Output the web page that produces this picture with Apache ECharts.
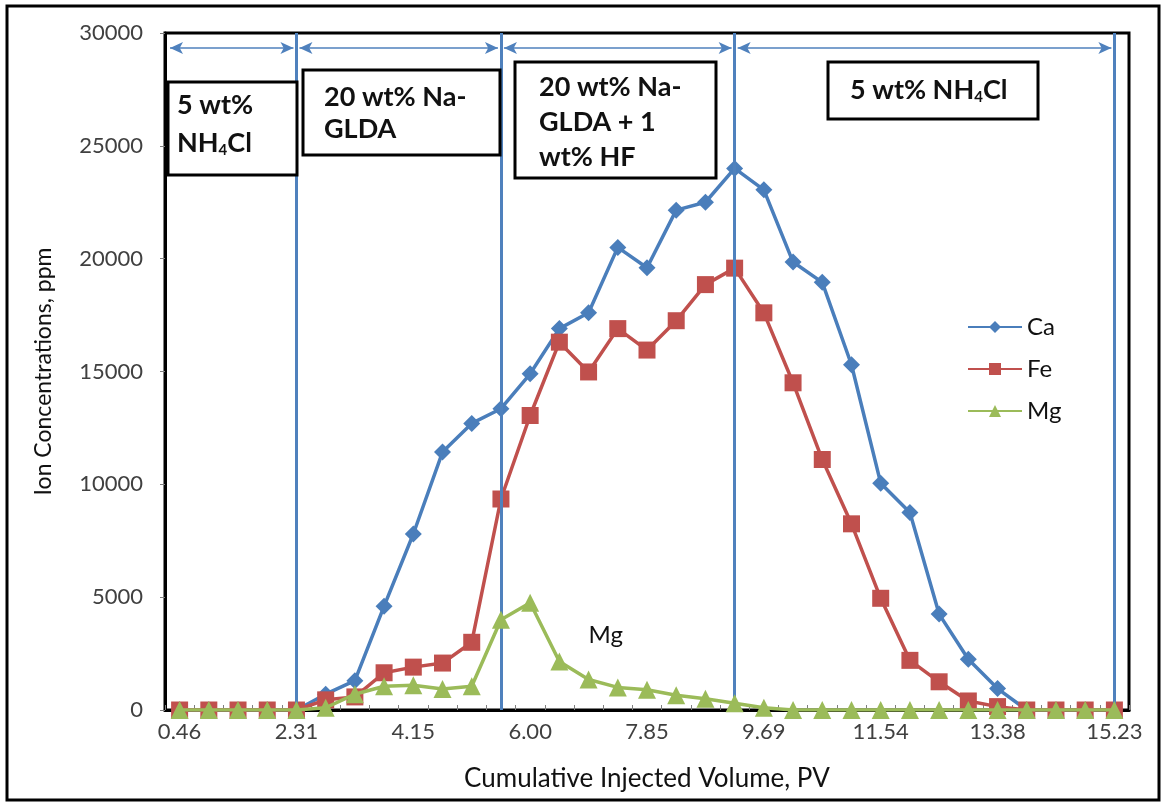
<!DOCTYPE html>
<html><head><meta charset="utf-8">
<script src="https://cdn.jsdelivr.net/npm/echarts@6/dist/echarts.min.js"></script>
<style>html,body{margin:0;padding:0;background:#fff}#c{width:1167px;height:807px}</style>
</head><body><div id="c"></div>
<script>
// ---- data ----
const categories = ['0.46','0.92','1.38','1.85','2.31','2.77','3.23','3.69','4.15','4.62','5.08','5.54','6.00','6.46','6.92','7.38','7.85','8.31','8.77','9.23','9.69','10.15','10.62','11.08','11.54','12.00','12.46','12.92','13.38','13.85','14.31','14.77','15.23'];
const caValues = [0,0,0,0,0,700,1300,4600,7800,11430,12700,13350,14900,16900,17600,20500,19600,22150,22500,24000,23050,19850,18950,15300,10050,8750,4250,2250,950,0,0,0,0];
const feValues = [0,0,0,0,0,450,580,1650,1900,2080,3000,9350,13050,16300,14980,16900,15950,17250,18850,19580,17600,14500,11100,8250,4950,2200,1250,400,150,0,0,0,0];
const mgValues = [0,0,0,0,0,100,700,1050,1100,930,1050,4000,4750,2150,1350,1000,900,650,500,300,100,0,0,0,0,0,0,0,0,0,0,0,0];
const seriesNames = ['Ca','Fe','Mg'];
const yMin = 0, yMax = 30000, yInterval = 5000;
const phaseBoundaries = ['2.31','5.54','9.23','15.23'];
const arrowLevel = 29330;

const FONT = 'Lato, "Open Sans", sans-serif';
const BLUE = '#4a7ebb', RED = '#c0504d', GREEN = '#9bbb59', LINEBLUE = '#4f81bd';

const chart = echarts.init(document.getElementById('c'));
const baseOption = {
  animation: false,
  backgroundColor: '#fff',
  textStyle: { fontFamily: FONT },
  grid: { left: 165, right: 38, top: 33, bottom: 97, show: true, borderColor: '#000', borderWidth: 3 },
  legend: {
    orient: 'vertical', left: 962, top: 310, itemWidth: 54, itemHeight: 15, itemGap: 18,
    textStyle: { fontSize: 24, color: '#111', fontFamily: FONT },
    data: seriesNames
  },
  xAxis: {
    type: 'category', data: categories, boundaryGap: true,
    name: 'Cumulative Injected Volume, PV', nameLocation: 'middle', nameGap: 56,
    nameTextStyle: { fontSize: 26, color: '#111', fontFamily: FONT },
    axisLine: { lineStyle: { color: '#000', width: 3 } },
    axisTick: { show: true, interval: 0, inside: true, length: 5, lineStyle: { color: '#7f7f7f', width: 1 } },
    axisLabel: { interval: 3, fontSize: 22, color: '#404040', margin: 11, fontFamily: FONT },
    splitLine: { show: false }
  },
  yAxis: {
    type: 'value', min: yMin, max: yMax, interval: yInterval,
    name: 'Ion Concentrations, ppm', nameLocation: 'middle', nameGap: 110, nameRotate: 90,
    nameTextStyle: { fontSize: 23, color: '#111', fontFamily: FONT },
    axisLine: { show: true, lineStyle: { color: '#000', width: 3 } },
    axisTick: { show: true, length: 5, lineStyle: { color: '#7f7f7f' } },
    axisLabel: { fontSize: 22, color: '#404040', margin: 22, fontFamily: FONT, formatter: v => String(v) },
    splitLine: { show: false }
  },
  series: [
    { name: 'Ca', type: 'line', data: caValues, symbol: 'diamond', symbolSize: 17,
      lineStyle: { color: BLUE, width: 3.5 }, itemStyle: { color: BLUE }, z: 3,
      markLine: { silent: true, symbol: 'none', label: { show: false },
        lineStyle: { color: LINEBLUE, width: 3, type: 'solid' },
        data: phaseBoundaries.map(c => ({ xAxis: c })) } },
    { name: 'Fe', type: 'line', data: feValues, symbol: 'rect', symbolSize: 17,
      lineStyle: { color: RED, width: 3.5 }, itemStyle: { color: RED }, z: 4 },
    { name: 'Mg', type: 'line', data: mgValues, symbol: 'triangle', symbolSize: 18,
      lineStyle: { color: GREEN, width: 3.5 }, itemStyle: { color: GREEN }, z: 5 }
  ]
};
chart.setOption(baseOption);

// horizontal double arrows between phase boundaries (positions from the axes)
const gridRect = chart.getModel().getComponent('grid').coordinateSystem.getRect();
const boundX = [gridRect.x + 2].concat(phaseBoundaries.map(c => chart.convertToPixel({ gridIndex: 0 }, [c, arrowLevel])[0]));
const arrowY = chart.convertToPixel({ gridIndex: 0 }, [categories[0], arrowLevel])[1];
const arrowData = [];
for (let i = 0; i < boundX.length - 1; i++) {
  arrowData.push([{ x: boundX[i] + 3, y: arrowY }, { x: boundX[i + 1] - 3, y: arrowY }]);
}
const mgPt = chart.convertToPixel({ gridIndex: 0 }, ['6.92', 3300]);

function boxText(lines, x, y, w, h, tx, lineY) {
  const children = [{ type: 'rect', shape: { x: x, y: y, width: w, height: h },
    style: { fill: '#fff', stroke: '#000', lineWidth: 3 }, z: 10 }];
  lines.forEach((ln, i) => {
    children.push({ type: 'text', z: 11, style: {
      text: ln, x: tx, y: lineY[i], verticalAlign: 'middle', align: 'left',
      rich: {
        b: { fontSize: 27, fontWeight: 'bold', fontFamily: FONT, fill: '#111', lineHeight: 32 },
        s: { fontSize: 15, fontWeight: 'bold', fontFamily: FONT, fill: '#111', lineHeight: 32, padding: [15, 0, 0, 0] }
      } } });
  });
  return { type: 'group', children: children };
}

chart.setOption({
  series: [{ name: 'Fe', markLine: { silent: true, symbol: ['arrow', 'arrow'], symbolSize: [9, 13], label: { show: false },
    lineStyle: { color: LINEBLUE, width: 1.5, type: 'solid' }, data: arrowData } }],
  graphic: [
    { type: 'rect', shape: { x: 7, y: 6, width: 1152, height: 794 }, style: { fill: 'none', stroke: '#000', lineWidth: 3 }, silent: true },
    boxText(['{b|5 wt%}', '{b|NH}{s|4}{b|Cl}'], 168, 82, 129, 93, 177, [105, 143]),
    boxText(['{b|20 wt% Na-}', '{b|GLDA}'], 303, 70, 197, 85, 324, [97, 129]),
    boxText(['{b|20 wt% Na-}', '{b|GLDA + 1}', '{b|wt% HF}'], 515, 62, 201, 116, 539, [87, 122, 157]),
    boxText(['{b|5 wt% NH}{s|4}{b|Cl}'], 828, 62, 210, 57, 850, [90]),
    { type: 'text', z: 12, style: { text: 'Mg', x: mgPt[0], y: mgPt[1], verticalAlign: 'middle',
      fontSize: 24, fontFamily: FONT, fill: '#111' } }
  ]
});
</script></body></html>
